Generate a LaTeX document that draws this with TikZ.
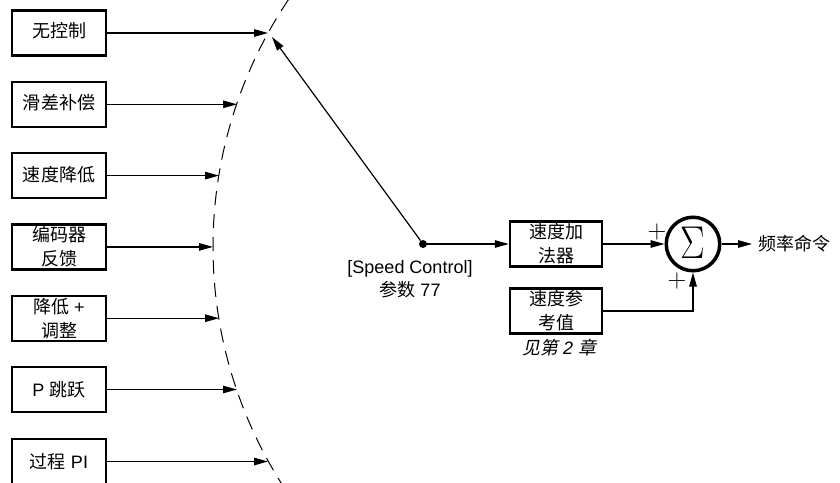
\documentclass[tikz,border=0pt]{standalone}
\usepackage{fontspec}
\setmainfont{Liberation Sans}
\newfontfamily\cjk{Noto Sans CJK SC}
\newfontfamily\cjkit{Noto Sans CJK SC}[FakeSlant=0.2]
\newfontfamily\serifsym{Latin Modern Roman}
\newcommand{\zh}[1]{{\cjk #1}}
\usepackage{tikz}
\usetikzlibrary{arrows.meta, positioning, calc}
\tikzset{
  modebox/.style={rectangle, draw, line width=2.4pt, minimum width=94pt, minimum height=45pt, align=center, font=\fontsize{18}{24}\selectfont, inner sep=0pt},
  arrow/.style={-{Triangle[length=14pt, width=7.5pt]}, line width=1.2pt},
  line/.style={line width=1.2pt},
  lbl/.style={align=center, font=\fontsize{18}{23}\selectfont},
  sumnode/.style={circle, draw, line width=3.5pt, minimum size=53.5pt, inner sep=0pt},
  plus/.style={font=\fontsize{26}{26}\serifsym, inner sep=0pt},
  sweep/.style={line width=1pt, dash pattern=on 14pt off 9pt}
}

\begin{document}
\begin{tikzpicture}[x=1pt, y=-1pt]
  \useasboundingbox (0,0) rectangle (840,482);

  % control modes, left column
  \node[modebox] (nocontrol) at (59,33)    {\raisebox{6pt}{\zh{无控制}}};
  \node[modebox] (slipcomp)  at (59,104.3) {\raisebox{4pt}{\zh{滑差补偿}}};
  \node[modebox] (droop)     at (59,175.6) {\raisebox{3pt}{\zh{速度降低}}};
  \node[modebox] (encoder)   at (59,246.9) {\zh{编码器}\\\zh{反馈}};
  \node[modebox] (droopadj)  at (59,318.2) {\zh{降低} +\\\zh{调整}};
  \node[modebox] (pjump)     at (59,389.5) {P \zh{跳跃}};
  \node[modebox] (procpi)    at (59,461.5) {\raisebox{2pt}{\zh{过程} PI}};

  % selector sweep (dashed arc) and the points where the inputs end
  \coordinate (arcc) at (656,246.9);
  \draw[sweep] (arcc) ++(214:443) arc[start angle=214, end angle=146, radius=443];
  \coordinate (tip1) at (268,33);
  \coordinate (tip2) at (237,104.3);
  \coordinate (tip3) at (219,175.6);
  \coordinate (tip4) at (213,246.9);
  \coordinate (tip5) at (219,318.2);
  \coordinate (tip6) at (237,389.5);
  \coordinate (tip7) at (268,461.5);
  \coordinate (armtip) at (272,37);

  \draw[arrow] (nocontrol) -- (tip1);
  \draw[arrow] (slipcomp) -- (tip2);
  \draw[arrow] (droop) -- (tip3);
  \draw[arrow] (encoder) -- (tip4);
  \draw[arrow] (droopadj) -- (tip5);
  \draw[arrow] (pjump) -- (tip6);
  \draw[arrow] (procpi) -- (tip7);

  % selector arm
  \node[circle, fill, minimum size=8pt, inner sep=0pt] (pivot) at (423,244) {};
  \draw[arrow] (pivot) -- (armtip);
  \node[lbl] (speedctl) at (410,279.5) {[Speed Control]\\\zh{参数} 77};

  % adder and reference
  \node[modebox, minimum width=92pt] (adder)  at (556,244) {\zh{速度加}\\\zh{法器}};
  \node[modebox, minimum width=92pt] (refval) at (556,311) {\zh{速度参}\\\zh{考值}};
  \node[lbl] (seechap) at (559,348) {{\cjkit 见第} \textit{2} {\cjkit 章}};

  \node[sumnode] (sum) at (693,244) {\raisebox{3pt}{\scalebox{0.8}[1]{\fontsize{46}{46}\serifsym Σ}}};
  \node[plus] (plusa) at (657,232) {+};
  \node[plus] (plusb) at (677,281) {+};
  \node[lbl, anchor=west, inner sep=6pt] (freqcmd) at (752,244) {\zh{频率命令}};

  \draw[arrow] (pivot) -- (adder);
  \draw[arrow] (adder) -- (sum);
  \draw[arrow] (refval.east) -| (sum.south);
  \draw[arrow] (sum) -- (freqcmd);
\end{tikzpicture}
\end{document}
